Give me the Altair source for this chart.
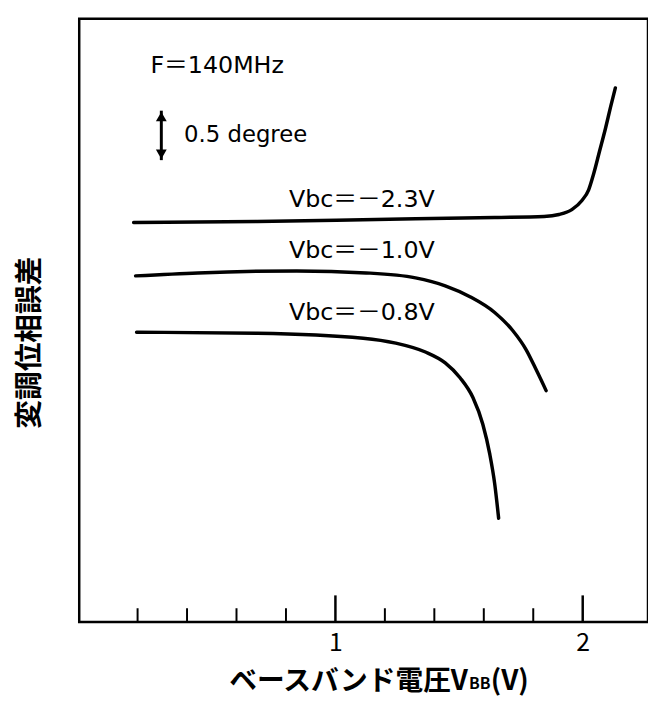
import altair as alt
import pandas as pd

# ---- data (x: baseband voltage VBB [V], y: modulation phase error [degree, arbitrary origin]) ----
s1_x = [0.184, 0.684, 1.164, 1.644, 1.844, 1.904, 1.956, 1.996, 2.024, 2.044, 2.068, 2.092, 2.112, 2.132]
s1_y = [4.04, 4.05, 4.07, 4.09, 4.10, 4.12, 4.17, 4.26, 4.37, 4.53, 4.76, 4.99, 5.20, 5.40]

s2_x = [0.192, 0.444, 0.844, 1.124, 1.324, 1.444, 1.544, 1.644, 1.716, 1.772, 1.812, 1.852]
s2_y = [3.50, 3.53, 3.55, 3.53, 3.48, 3.40, 3.29, 3.13, 2.95, 2.75, 2.55, 2.34]

s3_x = [0.196, 0.684, 1.112, 1.244, 1.364, 1.444, 1.504, 1.556, 1.596, 1.624, 1.644, 1.660]
s3_y = [2.93, 2.92, 2.87, 2.82, 2.73, 2.62, 2.47, 2.27, 2.00, 1.70, 1.40, 1.05]

series_names = ["Vbc＝－2.3V", "Vbc＝－1.0V", "Vbc＝－0.8V"]
label_x = [0.812, 0.812, 0.812]
label_y = [4.27, 3.75, 3.12]

minor_ticks = [0.2, 0.4, 0.6, 0.8, 1.2, 1.4, 1.6, 1.8]
major_ticks = [1.0, 2.0]

freq_text = "F＝140MHz"
freq_pos = (0.252, 5.62)
scale_text = "0.5 degree"
scale_text_pos = (0.388, 4.92)
arrow_x = 0.296
arrow_y = [4.67, 5.17]        # shaft ends (0.5 degree)
arrow_head_y = [4.73, 5.11]   # arrow heads

x_title = ["ベースバンド電圧V", "BB", "(V)"]
y_title = "変調位相誤差"

X_DOMAIN = [-0.036, 2.264]
Y_DOMAIN = [0.0, 6.10]
W, H = 575, 610

# ---- tables ----
rows = []
for name, xs_, ys_ in zip(series_names, [s1_x, s2_x, s3_x], [s1_y, s2_y, s3_y]):
    for i, (a, b) in enumerate(zip(xs_, ys_)):
        rows.append({"series": name, "x": a, "y": b, "order": i})
curves = pd.DataFrame(rows)

labels = pd.DataFrame({"text": series_names, "x": label_x, "y": label_y})
minor_df = pd.DataFrame({"x": minor_ticks})
major_df = pd.DataFrame({"x": major_ticks})
freq_df = pd.DataFrame({"text": [freq_text], "x": [freq_pos[0]], "y": [freq_pos[1]]})
scale_df = pd.DataFrame({"text": [scale_text], "x": [scale_text_pos[0]], "y": [scale_text_pos[1]]})
arrow_df = pd.DataFrame({"x": [arrow_x], "y": [arrow_y[0]], "y2": [arrow_y[1]]})
arrow_heads = pd.DataFrame({"x": [arrow_x, arrow_x], "y": arrow_head_y,
                            "shape": ["triangle-down", "triangle-up"]})

xs = alt.Scale(domain=X_DOMAIN, nice=False, zero=False)
ys = alt.Scale(domain=Y_DOMAIN, nice=False, zero=False)

JP = "Noto Sans CJK JP"
LAT = "DejaVu Sans, Noto Sans CJK JP"

base_x = alt.X("x:Q", scale=xs,
               axis=alt.Axis(values=major_ticks, format="d", ticks=False, domain=False,
                             grid=False, labelFontSize=25, labelFont=JP, labelColor="black",
                             labelPadding=9, title=None))

base_y = alt.Y("y:Q", scale=ys,
               axis=alt.Axis(labels=False, ticks=False, domain=False, grid=False,
                             title=y_title, titleFont=JP, titleFontSize=29,
                             titleFontWeight="bold", titleColor="black", titleAngle=270,
                             titleAlign="center", titleBaseline="middle",
                             titleX=-50, titleY=327))

lines = alt.Chart(curves).mark_line(color="black", strokeWidth=3.5, interpolate="monotone",
                                    strokeCap="round").encode(
    x=base_x,
    y=base_y,
    detail="series:N",
    order="order:Q",
)

minor = alt.Chart(minor_df).mark_rule(color="black", strokeWidth=2).encode(
    x=alt.X("x:Q", scale=xs), y=alt.value(H), y2=alt.value(H - 14))
major = alt.Chart(major_df).mark_rule(color="black", strokeWidth=2.5).encode(
    x=alt.X("x:Q", scale=xs), y=alt.value(H), y2=alt.value(H - 27))

series_labels = alt.Chart(labels).mark_text(align="left", baseline="middle", fontSize=24,
                                            font=LAT, color="black").encode(
    x=alt.X("x:Q", scale=xs), y=alt.Y("y:Q", scale=ys), text="text:N")

freq_mark = alt.Chart(freq_df).mark_text(align="left", baseline="middle", fontSize=24,
                                         font=LAT, color="black").encode(
    x=alt.X("x:Q", scale=xs), y=alt.Y("y:Q", scale=ys), text="text:N")

scale_mark = alt.Chart(scale_df).mark_text(align="left", baseline="middle", fontSize=23,
                                           font=LAT, color="black").encode(
    x=alt.X("x:Q", scale=xs), y=alt.Y("y:Q", scale=ys), text="text:N")

arrow_shaft = alt.Chart(arrow_df).mark_rule(color="black", strokeWidth=3).encode(
    x=alt.X("x:Q", scale=xs), y=alt.Y("y:Q", scale=ys), y2="y2:Q")
arrow_tips = alt.Chart(arrow_heads).mark_point(filled=True, color="black", size=120,
                                               opacity=1).encode(
    x=alt.X("x:Q", scale=xs), y=alt.Y("y:Q", scale=ys),
    shape=alt.Shape("shape:N", scale=None))

xt_df = pd.DataFrame({"t": x_title})
xt_main = alt.Chart(xt_df.iloc[[0]]).mark_text(
    fontSize=28, font=JP, fontWeight="bold", color="black", align="right",
    baseline="alphabetic").encode(x=alt.value(393), y=alt.value(679), text="t:N")
xt_sub = alt.Chart(xt_df.iloc[[1]]).mark_text(
    fontSize=16, font=JP, fontWeight="bold", color="black", align="left",
    baseline="alphabetic").encode(x=alt.value(394), y=alt.value(678), text="t:N")
xt_end = alt.Chart(xt_df.iloc[[2]]).mark_text(
    fontSize=28, font=JP, fontWeight="bold", color="black", align="left",
    baseline="alphabetic").encode(x=alt.value(416), y=alt.value(679), text="t:N")

chart = alt.layer(
    lines, minor, major, series_labels, freq_mark, scale_mark, arrow_shaft, arrow_tips,
    xt_main, xt_sub, xt_end
).properties(
    width=W, height=H,
    autosize=alt.AutoSizeParams(type="none"),
    padding={"left": 72, "top": 7, "right": 0, "bottom": 79},
    background="white",
).configure_view(stroke="black", strokeWidth=2.5)

chart.save("out.html", embed_options={"renderer": "svg", "actions": False})
